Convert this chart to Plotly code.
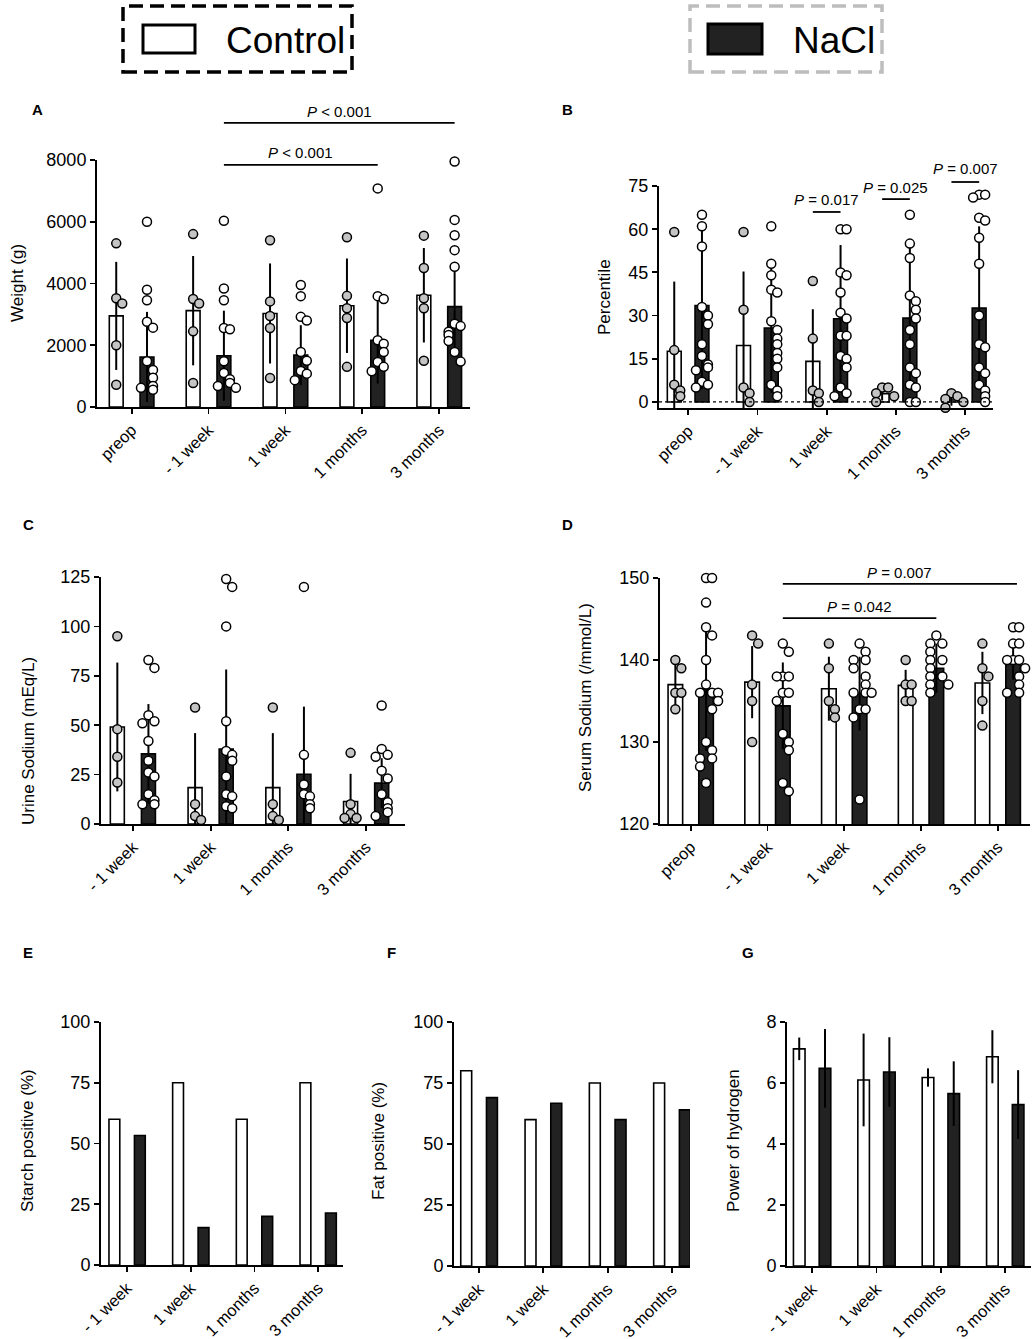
import plotly.graph_objects as go

W, H = 1036, 1339
FONT = "Liberation Sans, Arial, Helvetica, sans-serif"
GRAY_DOT = "#c4c4c4"
DARK = "#222222"

# ---------------- data ----------------
cats5 = ["preop", "- 1 week", "1 week", "1 months", "3 months"]
cats4 = ["- 1 week", "1 week", "1 months", "3 months"]

# A: weight (g)
weight_ctrl_mean = [2950, 3120, 3030, 3280, 3620]
weight_ctrl_sd = [1750, 1770, 1620, 1530, 1530]
weight_nacl_mean = [1620, 1660, 1680, 2160, 3250]
weight_nacl_sd = [1460, 1460, 970, 1400, 1400]
weight_ctrl_pts = [[5300, 3520, 3350, 2000, 720],
                   [5600, 3500, 3350, 2450, 780],
                   [5400, 3420, 2950, 2560, 940],
                   [5500, 3600, 3200, 2880, 1300],
                   [5550, 4500, 3520, 3200, 1500]]
weight_nacl_pts = [[6000, 3800, 3460, 2760, 2570, 1480, 1200, 950, 680, 560, 620],
                   [6030, 3840, 3460, 2560, 2520, 1480, 1100, 900, 780, 680, 620],
                   [3950, 3590, 2920, 2800, 1780, 1500, 1170, 1080, 870],
                   [7080, 3590, 3500, 2160, 2050, 1780, 1460, 1300, 1160],
                   [7950, 6060, 5560, 5080, 4540, 2700, 2620, 2440, 2330, 2140, 1780, 1470]]

# B: percentile
pct_ctrl_mean = [17.6, 19.6, 14.1, 2.9, 0.7]
pct_ctrl_sd = [24.2, 25.7, 18.1, 2.4, 2.0]
pct_nacl_mean = [33.5, 25.7, 28.9, 29.1, 32.6]
pct_nacl_sd = [29.0, 22.5, 25.6, 25.0, 28.4]
pct_ctrl_pts = [[59, 18, 6, 4, 2], [59, 32, 5, 3, 0], [42, 22, 4, 3, 0],
                [5, 5, 3, 2, 0], [3, 2, 1, 0, -2]]
pct_nacl_pts = [[65, 61, 54, 33, 30, 27, 20, 16, 13, 12, 11, 7, 6, 5],
                [61, 48, 44, 39, 38, 28, 25, 22, 20, 17, 15, 12, 6, 4, 2],
                [60, 60, 45, 44, 38, 31, 29, 23, 23, 16, 15, 12, 5, 3, 2],
                [65, 55, 50, 37, 35, 32, 29, 25, 20, 12, 10, 6, 5, 0, 0],
                [72, 72, 71, 64, 63, 57, 48, 30, 20, 19, 12, 10, 6, 4, 2, 0]]

# C: urine sodium (mEq/L)
urine_ctrl_mean = [49.1, 18.4, 18.4, 11.4]
urine_ctrl_sd = [32.6, 27.6, 27.6, 14.0]
urine_nacl_mean = [35.5, 37.9, 25.2, 20.7]
urine_nacl_sd = [25.2, 40.3, 34.2, 12.6]
urine_ctrl_pts = [[95, 48, 34, 21], [59, 10, 4, 2], [59, 10, 4, 2], [36, 10, 5, 3, 3]]
urine_nacl_pts = [[83, 79, 55, 52, 51, 42, 32, 26, 24, 15, 12, 10, 10],
                  [124, 120, 100, 52, 37, 35, 32, 24, 15, 14, 9, 8],
                  [120, 35, 20, 15, 14, 10, 8],
                  [60, 38, 35, 34, 27, 23, 15, 11, 8, 6, 4]]

# D: serum sodium (/mmol/L)
na_ctrl_mean = [137.0, 137.3, 136.5, 136.9, 137.2]
na_ctrl_sd = [2.6, 4.4, 3.9, 1.9, 3.8]
na_nacl_mean = [136.5, 134.4, 135.9, 139.0, 139.8]
na_nacl_sd = [7.6, 5.3, 4.5, 3.0, 2.2]
na_ctrl_pts = [[140, 139, 136, 136, 134], [143, 142, 137, 135, 130],
               [142, 139, 135, 134, 133], [140, 137, 137, 135, 135],
               [142, 139, 138, 135, 132]]
na_nacl_pts = [[150, 150, 147, 144, 143, 140, 137, 136, 136, 136, 135, 134, 130, 129, 128, 128, 127, 125],
               [142, 141, 138, 138, 138, 136, 136, 135, 131, 130, 129, 125, 124],
               [142, 141, 140, 140, 139, 138, 137, 136, 136, 136, 134, 134, 133, 123],
               [143, 142, 142, 141, 140, 140, 139, 138, 138, 137, 137, 136],
               [144, 144, 142, 142, 140, 140, 140, 139, 138, 137, 136, 136]]

# E: starch positive (%)
starch_ctrl = [60, 75, 60, 75]
starch_nacl = [53.3, 15.4, 20.0, 21.4]

# F: fat positive (%)
fat_ctrl = [80, 60, 75, 75]
fat_nacl = [69.0, 66.7, 60.0, 64.0]

# G: pH
ph_ctrl_mean = [7.12, 6.10, 6.18, 6.86]
ph_ctrl_sd = [0.37, 1.52, 0.30, 0.87]
ph_nacl_mean = [6.48, 6.36, 5.65, 5.29]
ph_nacl_sd = [1.29, 1.14, 1.06, 1.13]

# ---------------- layout helpers ----------------
def fx(p):
    return p / W


def fy(p):
    return 1 - p / H


panels = [
    dict(label="A", lab_xy=(37, 110), title="Weight (g)", title_xy=(18, 283),
         xdom=(97, 470), ydom=(160, 407), cats=cats5, xr=(-0.45, 4.4), yr=(0, 8000),
         yt=[0, 2000, 4000, 6000, 8000], bw=0.18,
         cm=weight_ctrl_mean, cs=weight_ctrl_sd, nm=weight_nacl_mean, ns=weight_nacl_sd,
         cp=weight_ctrl_pts, np_=weight_nacl_pts,
         sig=[(1, 0.2, 4, 0.2, 1.15, 1.198, "<i>P</i> < 0.001"),
              (1, 0.2, 3, 0.2, 0.98, 1.032, "<i>P</i> < 0.001")]),
    dict(label="B", lab_xy=(567, 109), title="Percentile", title_xy=(605, 297),
         xdom=(659, 993), ydom=(186, 408), cats=cats5, xr=(-0.42, 4.4), yr=(-2.1, 75),
         yt=[0, 15, 30, 45, 60, 75], bw=0.2,
         cm=pct_ctrl_mean, cs=pct_ctrl_sd, nm=pct_nacl_mean, ns=pct_nacl_sd,
         cp=pct_ctrl_pts, np_=pct_nacl_pts, zero_dot=True,
         sig=[(2, -0.2, 2, 0.2, 0.883, 0.939, "<i>P</i> = 0.017"),
              (3, -0.2, 3, 0.2, 0.941, 0.993, "<i>P</i> = 0.025"),
              (4, -0.2, 4, 0.2, 1.018, 1.081, "<i>P</i> = 0.007")]),
    dict(label="C", lab_xy=(28, 524), title="Urine Sodium (mEq/L)", title_xy=(28, 741),
         xdom=(101, 405), ydom=(577, 824), cats=cats4, xr=(-0.41, 3.5), yr=(0, 125),
         yt=[0, 25, 50, 75, 100, 125], bw=0.18,
         cm=urine_ctrl_mean, cs=urine_ctrl_sd, nm=urine_nacl_mean, ns=urine_nacl_sd,
         cp=urine_ctrl_pts, np_=urine_nacl_pts, sig=[]),
    dict(label="D", lab_xy=(567, 524), title="Serum Sodium (/mmol/L)", title_xy=(585, 698),
         xdom=(660, 1030), ydom=(578, 824), cats=cats5, xr=(-0.4, 4.42), yr=(120, 150),
         yt=[120, 130, 140, 150], bw=0.19,
         cm=na_ctrl_mean, cs=na_ctrl_sd, nm=na_nacl_mean, ns=na_nacl_sd,
         cp=na_ctrl_pts, np_=na_nacl_pts,
         sig=[(1, 0.2, 4, 0.25, 0.976, 1.024, "<i>P</i> = 0.007"),
              (1, 0.2, 3, 0.2, 0.837, 0.886, "<i>P</i> = 0.042")]),
    dict(label="E", lab_xy=(28, 952), title="Starch positive (%)", title_xy=(27, 1141),
         xdom=(101, 343), ydom=(1022, 1265), cats=cats4, xr=(-0.41, 3.39), yr=(0, 100),
         yt=[0, 25, 50, 75, 100], bw=0.17,
         cm=starch_ctrl, cs=None, nm=starch_nacl, ns=None, cp=None, np_=None, sig=[]),
    dict(label="F", lab_xy=(391, 952), title="Fat positive (%)", title_xy=(378, 1141),
         xdom=(454, 690), ydom=(1022, 1266), cats=cats4, xr=(-0.39, 3.28), yr=(0, 100),
         yt=[0, 25, 50, 75, 100], bw=0.17,
         cm=fat_ctrl, cs=None, nm=fat_nacl, ns=None, cp=None, np_=None, sig=[]),
    dict(label="G", lab_xy=(748, 952), title="Power of hydrogen", title_xy=(733, 1141),
         xdom=(787, 1031), ydom=(1022, 1266), cats=cats4, xr=(-0.39, 3.4), yr=(0, 8),
         yt=[0, 2, 4, 6, 8], bw=0.18,
         cm=ph_ctrl_mean, cs=ph_ctrl_sd, nm=ph_nacl_mean, ns=ph_nacl_sd,
         cp=None, np_=None, sig=[]),
]


def spread(vals, yspan, dx):
    """deterministic beeswarm-like horizontal offsets for overlapping dots"""
    placed = []
    offs = []
    pattern = [0, 1, -1, 2, -2, 0.5, -0.5]
    for v in vals:
        k = sum(1 for pv in placed if abs(pv - v) < 0.04 * yspan)
        placed.append(v)
        offs.append(pattern[k % len(pattern)] * dx)
    return offs


fig = go.Figure()
layout = dict(template="none", width=W, height=H, autosize=False,
              margin=dict(l=0, r=0, t=0, b=0, pad=0),
              paper_bgcolor="white", plot_bgcolor="rgba(0,0,0,0)",
              barmode="overlay", showlegend=False,
              font=dict(family=FONT, color="black"))
shapes = []
annotations = []

OFF = 0.2
for i, p in enumerate(panels, start=1):
    xa = "x" if i == 1 else f"x{i}"
    ya = "y" if i == 1 else f"y{i}"
    n = len(p["cats"])
    idx = list(range(n))

    err_c = dict(type="data", array=p["cs"], visible=True, color="black",
                 thickness=2, width=0) if p["cs"] else None
    err_n = dict(type="data", array=p["ns"], visible=True, color="black",
                 thickness=2, width=0) if p["ns"] else None

    fig.add_trace(go.Bar(x=[j - OFF for j in idx], y=p["cm"], width=p["bw"],
                         marker=dict(color="white", line=dict(color="black", width=1.6)),
                         error_y=err_c, xaxis=xa, yaxis=ya, hoverinfo="skip"))
    fig.add_trace(go.Bar(x=[j + OFF for j in idx], y=p["nm"], width=p["bw"],
                         marker=dict(color=DARK, line=dict(color="black", width=1.6)),
                         error_y=err_n, xaxis=xa, yaxis=ya, hoverinfo="skip"))

    pxu = (p["xdom"][1] - p["xdom"][0]) / (p["xr"][1] - p["xr"][0])
    dx = 6.0 / pxu
    yspan = p["yr"][1] - p["yr"][0]
    for pts, side, fill in ((p["cp"], -OFF, GRAY_DOT), (p["np_"], OFF, "white")):
        if not pts:
            continue
        xs, ys = [], []
        for j, grp in enumerate(pts):
            offs = spread(grp, yspan, dx)
            for v, o in zip(grp, offs):
                xs.append(j + side + o)
                ys.append(v)
        fig.add_trace(go.Scatter(x=xs, y=ys, mode="markers", xaxis=xa, yaxis=ya,
                                 cliponaxis=False, hoverinfo="skip",
                                 marker=dict(size=9, color=fill,
                                             line=dict(color="black", width=1.5))))

    axis_common = dict(showline=True, linecolor="black", linewidth=2, ticks="outside",
                       ticklen=5, tickwidth=1.8, tickcolor="black", showgrid=False,
                       zeroline=False, fixedrange=True, automargin=False)
    layout["xaxis" if i == 1 else f"xaxis{i}"] = dict(
        axis_common, domain=[fx(p["xdom"][0]), fx(p["xdom"][1])], range=list(p["xr"]),
        tickmode="array", tickvals=idx, ticktext=p["cats"], tickangle=-45, anchor=ya,
        tickfont=dict(family=FONT, size=16.5, color="black"))
    layout["yaxis" if i == 1 else f"yaxis{i}"] = dict(
        axis_common, domain=[fy(p["ydom"][1]), fy(p["ydom"][0])], range=list(p["yr"]),
        tickmode="array", tickvals=p["yt"], anchor=xa,
        tickfont=dict(family=FONT, size=18, color="black"))

    # zero dotted line (panel B)
    if p.get("zero_dot"):
        shapes.append(dict(type="line", xref=f"{xa} domain", yref=ya, x0=0, x1=1,
                           y0=0, y1=0, line=dict(color="black", width=1.2, dash="dot")))

    # significance bars
    span = p["xr"][1] - p["xr"][0]
    for c0, s0, c1, s1, yl, yt_, txt in p["sig"]:
        x0 = (c0 + s0 - p["xr"][0]) / span
        x1 = (c1 + s1 - p["xr"][0]) / span
        shapes.append(dict(type="line", xref=f"{xa} domain", yref=f"{ya} domain",
                           x0=x0, x1=x1, y0=yl, y1=yl,
                           line=dict(color="black", width=1.8)))
        annotations.append(dict(text=txt, xref=f"{xa} domain", yref=f"{ya} domain",
                                x=(x0 + x1) / 2, y=yt_, xanchor="center", yanchor="middle",
                                showarrow=False, font=dict(family=FONT, size=15)))

    # y axis title
    annotations.append(dict(text=p["title"], xref="paper", yref="paper",
                            x=fx(p["title_xy"][0]), y=fy(p["title_xy"][1]),
                            xanchor="center", yanchor="middle", textangle=-90,
                            showarrow=False, font=dict(family=FONT, size=17)))
    # panel letter
    annotations.append(dict(text=f"<b>{p['label']}</b>", xref="paper", yref="paper",
                            x=fx(p["lab_xy"][0]), y=fy(p["lab_xy"][1]),
                            xanchor="center", yanchor="middle", showarrow=False,
                            font=dict(family=FONT, size=15)))

# ---------------- legend ----------------
def prect(x0, y0, x1, y1, **kw):
    return dict(type="rect", xref="paper", yref="paper",
                x0=fx(x0), x1=fx(x1), y0=fy(y1), y1=fy(y0), **kw)


shapes.append(prect(123, 6, 352, 72, line=dict(color="black", width=3.5, dash="14px,7px")))
shapes.append(prect(143, 25, 195, 53, line=dict(color="black", width=3), fillcolor="white"))
shapes.append(prect(690, 6, 882, 72, line=dict(color="#bdbdbd", width=3.5, dash="14px,7px")))
shapes.append(prect(708, 24, 762, 54, line=dict(color="black", width=3), fillcolor=DARK))
annotations.append(dict(text="Control", xref="paper", yref="paper", x=fx(224), y=fy(40),
                        xanchor="left", yanchor="middle", showarrow=False,
                        font=dict(family=FONT, size=37)))
annotations.append(dict(text="NaCl", xref="paper", yref="paper", x=fx(791), y=fy(40),
                        xanchor="left", yanchor="middle", showarrow=False,
                        font=dict(family=FONT, size=37)))

layout["shapes"] = shapes
layout["annotations"] = annotations
fig.update_layout(**layout)
fig.write_html("out.html",
               config={"displayModeBar": False, "staticPlot": True},
               post_script="document.body.style.margin='0px';"
                           "document.body.style.overflow='hidden';")
